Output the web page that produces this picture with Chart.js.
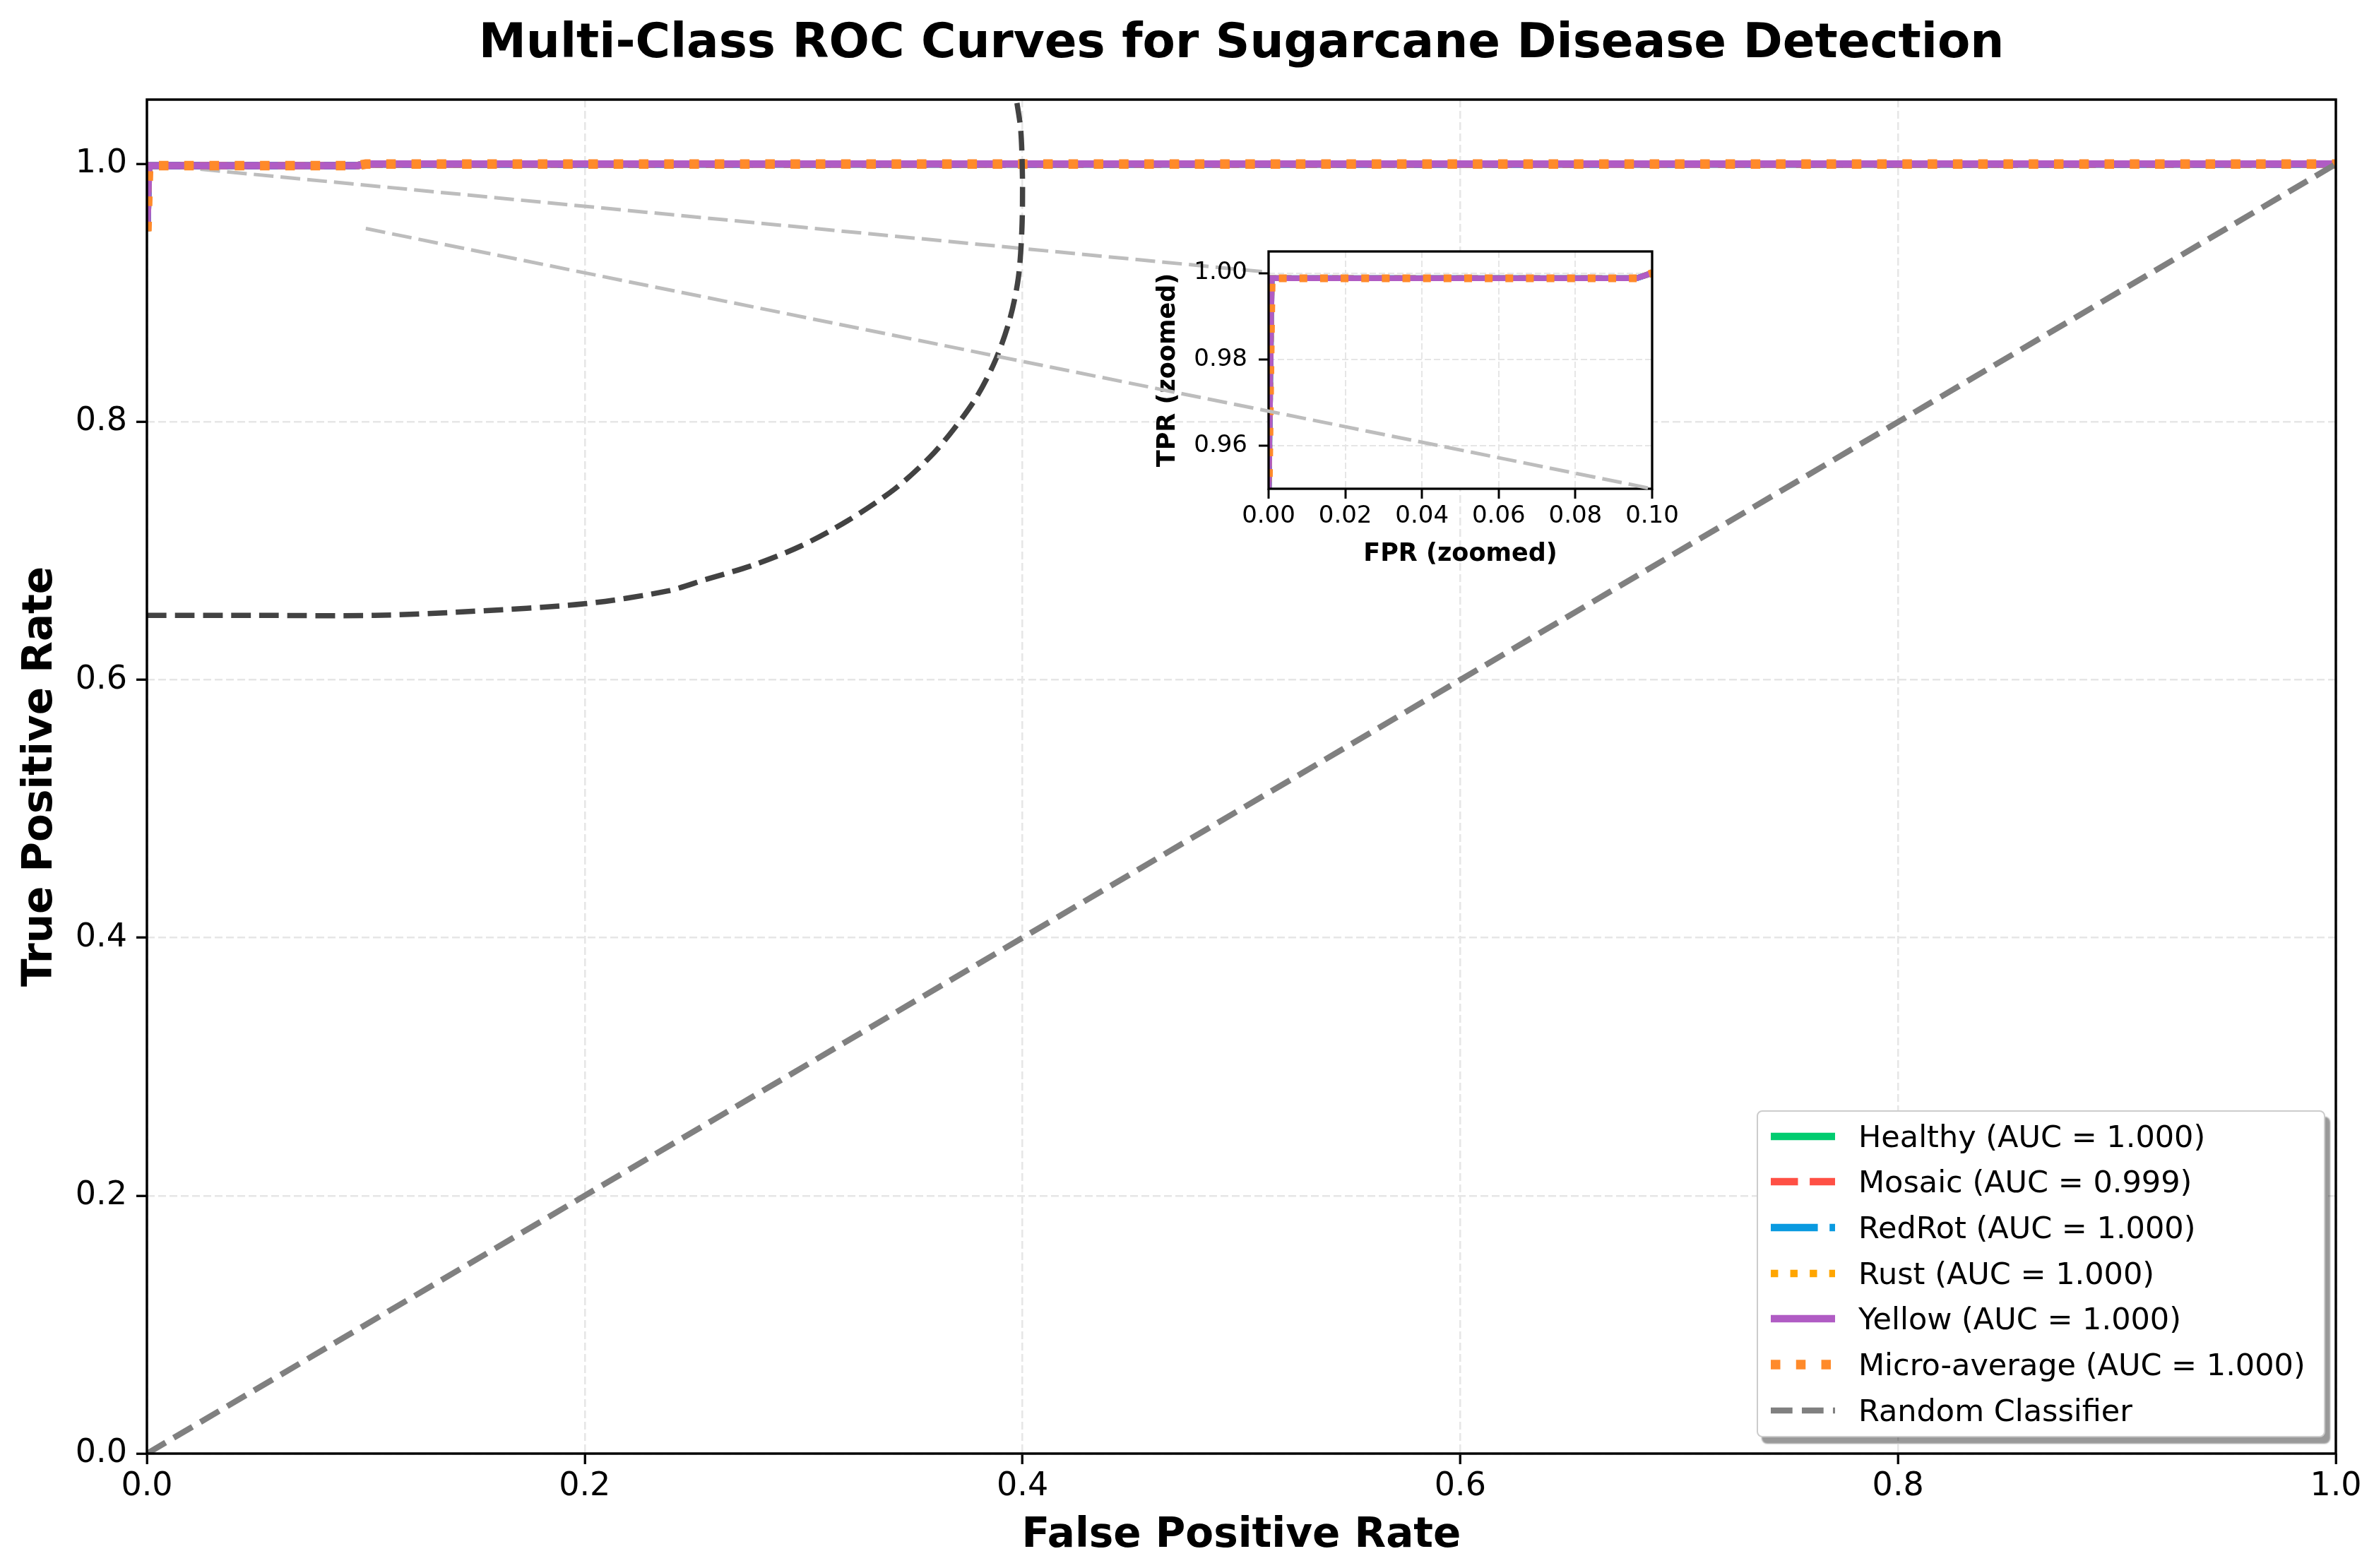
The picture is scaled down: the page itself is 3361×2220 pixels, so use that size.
<!DOCTYPE html>
<html>
<head>
<meta charset="utf-8">
<title>Multi-Class ROC Curves for Sugarcane Disease Detection</title>
<script src="https://cdn.jsdelivr.net/npm/chart.js@4.4.1/dist/chart.umd.min.js"></script>
<style>
  html, body { margin: 0; padding: 0; background: #fff; }
  #wrap { position: relative; width: 3361px; height: 2220px; overflow: hidden; }
  #wrap canvas { position: absolute; }
  #rocChart { left: 0; top: 0; z-index: 1; }
  #insetChart { left: 1600px; top: 319px; z-index: 2; }
  #overlayChart { left: 0; top: 0; z-index: 3; }
  #legend {
    position: absolute; left: 2487px; top: 1572px; width: 805px; height: 463px;
    box-sizing: border-box; border: 2px solid #cccccc; border-radius: 8px; background: #fff;
    box-shadow: 7px 9px 2px rgba(0, 0, 0, 0.4); z-index: 4;
    font-family: 'DejaVu Sans', sans-serif; font-size: 43px; color: #000;
  }
  #legend .row { position: absolute; left: 0; height: 65px; width: 100%; }
  #legend svg { position: absolute; left: 13px; top: 17px; }
  #legend span { position: absolute; left: 142px; top: 0; line-height: 65px; white-space: nowrap; }
</style>
</head>
<body>
<div id="wrap">
  <canvas id="rocChart" width="3361" height="2220"></canvas>
  <canvas id="insetChart" width="800" height="511"></canvas>
  <canvas id="overlayChart" width="3361" height="2220"></canvas>
  <div id="legend"></div>
</div>
<script>
console.log("Drawing the multi-class ROC chart");

// tick labels
const mainTicks = [0.0, 0.2, 0.4, 0.6, 0.8, 1.0];
const insetXTicks = [0.00, 0.02, 0.04, 0.06, 0.08, 0.10];
const insetYTicks = [0.96, 0.98, 1.00];

// classes
const classNames = ['Healthy', 'Mosaic', 'RedRot', 'Rust', 'Yellow'];
const classAuc = [1.000, 0.999, 1.000, 1.000, 1.000];
const microAuc = 1.000;

// ROC points (the curves lie on top of each other)
const healthyFpr = [0, 0.0008, 0.096, 0.1, 1.0];
const healthyTpr = [0.948, 0.9988, 0.9988, 1.0, 1.0];
const mosaicFpr = [0, 0.0008, 0.096, 0.1, 1.0];
const mosaicTpr = [0.948, 0.9988, 0.9988, 1.0, 1.0];
const redRotFpr = [0, 0.0008, 0.096, 0.1, 1.0];
const redRotTpr = [0.948, 0.9988, 0.9988, 1.0, 1.0];
const rustFpr = [0, 0.0008, 0.096, 0.1, 1.0];
const rustTpr = [0.948, 0.9988, 0.9988, 1.0, 1.0];
const yellowFpr = [0, 0.0008, 0.096, 0.1, 1.0];
const yellowTpr = [0.948, 0.9988, 0.9988, 1.0, 1.0];
const microFpr = [0, 0.0008, 0.096, 0.1, 1.0];
const microTpr = [0.948, 0.9988, 0.9988, 1.0, 1.0];
const randomFpr = [0, 1];
const randomTpr = [0, 1];

// dark dashed arc
const arcX = [0.000, 0.050, 0.104, 0.147, 0.200, 0.238, 0.2556, 0.277, 0.2986, 0.3201, 0.3416, 0.3578,
              0.3685, 0.3793, 0.3879, 0.3943, 0.3981, 0.3997, 0.4000, 0.3992, 0.3973];
const arcY = [0.650, 0.650, 0.650, 0.653, 0.659, 0.669, 0.678, 0.689, 0.7037, 0.7234, 0.748, 0.7729,
              0.7942, 0.8201, 0.8489, 0.8803, 0.9117, 0.9484, 0.9877, 1.0265, 1.0493];

// grey lines from the zoomed corner to the inset
const guideUpperX = [0.0, 0.5124];
const guideUpperY = [1.0, 0.9161];
const guideLowerX = [0.1, 0.6876];
const guideLowerY = [0.95, 0.7482];

const classFpr = [healthyFpr, mosaicFpr, redRotFpr, rustFpr, yellowFpr];
const classTpr = [healthyTpr, mosaicTpr, redRotTpr, rustTpr, yellowTpr];
const classColors = ['#00cc70', '#ff5045', '#0a9ae0', '#ffa500', '#b05cc4'];
const classStyles = ['-', '--', '-.', ':', '-'];

Chart.defaults.font.family = "'DejaVu Sans', sans-serif";
Chart.defaults.color = '#000';

function toPoints(xs, ys) {
    return xs.map((x, i) => ({ x: x, y: ys[i] }));
}

// matplotlib-like dash patterns, scaled by the line width
function dashFor(style, lw) {
    if (style === '--') return [3.7 * lw, 1.6 * lw];
    if (style === '-.') return [6.4 * lw, 1.6 * lw, lw, 1.6 * lw];
    if (style === ':') return [lw, 1.65 * lw];
    return [];
}

function lineSet(label, xs, ys, color, style, lw, order) {
    return {
        label: label,
        data: toPoints(xs, ys),
        borderColor: color,
        backgroundColor: color,
        borderWidth: lw,
        borderDash: dashFor(style, lw),
        borderCapStyle: 'butt',
        pointRadius: 0,
        tension: 0,
        fill: false,
        clip: 0,
        order: order
    };
}

function rocDatasets(lw, microLw) {
    const sets = classNames.map((name, i) =>
        lineSet(name + ' (AUC = ' + classAuc[i].toFixed(3) + ')', classFpr[i], classTpr[i],
            classColors[i], classStyles[i], lw, 10 - i));
    sets.push(lineSet('Micro-average (AUC = ' + microAuc.toFixed(3) + ')', microFpr, microTpr,
        '#ff8a2a', ':', microLw, 4));
    return sets;
}

// draws the four spines, and a white face under the plot if asked
const framePlugin = {
    id: 'frame',
    beforeDraw(chart, args, opts) {
        if (!opts.face) return;
        const a = chart.chartArea;
        chart.ctx.save();
        chart.ctx.fillStyle = '#fff';
        chart.ctx.fillRect(a.left, a.top, a.right - a.left, a.bottom - a.top);
        chart.ctx.restore();
    },
    afterDraw(chart, args, opts) {
        if (!opts.show) return;
        const a = chart.chartArea;
        const ctx = chart.ctx;
        ctx.save();
        ctx.strokeStyle = '#000';
        ctx.lineWidth = opts.width;
        ctx.setLineDash([]);
        ctx.strokeRect(a.left, a.top, a.right - a.left, a.bottom - a.top);
        ctx.restore();
    }
};

function fixedTicks(list) {
    return scale => { scale.ticks = list.map(v => ({ value: v })); };
}

const gridStyle = { color: '#e6e6e6', lineWidth: 2.5, tickLength: 15, tickColor: '#000', tickWidth: 3.3, tickBorderDash: [] };

// ---------- main chart ----------
const mainDatasets = rocDatasets(10.4, 13.5);
mainDatasets.push(lineSet('Random Classifier', randomFpr, randomTpr, '#808080', '--', 8.3, 3));
mainDatasets.push(Object.assign(lineSet('', arcX, arcY, '#424242', '--', 7.5, 2), { tension: 0.3 }));
mainDatasets.push(lineSet('', guideUpperX, guideUpperY, '#bdbdbd', '-', 5, 12));
mainDatasets[mainDatasets.length - 1].borderDash = [28, 10];

const rocChart = new Chart(document.getElementById('rocChart'), {
    type: 'line',
    data: { datasets: mainDatasets },
    options: {
        responsive: false,
        devicePixelRatio: 1,
        animation: false,
        events: [],
        layout: { padding: { left: 0, right: 54, top: 0, bottom: 0 } },
        plugins: {
            legend: { display: false },
            tooltip: { enabled: false },
            title: {
                display: true,
                text: 'Multi-Class ROC Curves for Sugarcane Disease Detection',
                font: { size: 67.5, weight: 'bold' },
                color: '#000',
                fullSize: false,
                padding: { top: 23, bottom: 37 }
            },
            frame: { show: true, width: 3.5 }
        },
        scales: {
            x: {
                type: 'linear', min: 0, max: 1,
                afterBuildTicks: fixedTicks(mainTicks),
                afterFit: s => { s.height = 162; },
                grid: gridStyle,
                border: { display: false, dash: [11, 5] },
                ticks: { font: { size: 46 }, color: '#000', padding: 4, maxRotation: 0, autoSkip: false,
                    callback: v => Number(v).toFixed(1) },
                title: { display: true, text: 'False Positive Rate', font: { size: 58, weight: 'bold' },
                    color: '#000', padding: { top: 0, bottom: 10 } }
            },
            y: {
                type: 'linear', min: 0, max: 1.05,
                afterBuildTicks: fixedTicks(mainTicks),
                afterFit: s => { s.width = 208; },
                grid: gridStyle,
                border: { display: false, dash: [11, 5] },
                ticks: { font: { size: 46 }, color: '#000', padding: 13, autoSkip: false,
                    callback: v => Number(v).toFixed(1) },
                title: { display: true, text: 'True Positive Rate', font: { size: 58, weight: 'bold' },
                    color: '#000', padding: { top: 23, bottom: 0 } }
            }
        }
    },
    plugins: [framePlugin]
});

// ---------- zoomed inset ----------
const insetGrid = { color: '#e6e6e6', lineWidth: 2, tickLength: 14, tickColor: '#000', tickWidth: 3, tickBorderDash: [] };

new Chart(document.getElementById('insetChart'), {
    type: 'line',
    data: { datasets: rocDatasets(8.3, 11) },
    options: {
        responsive: false,
        devicePixelRatio: 1,
        animation: false,
        events: [],
        layout: { padding: { left: 0, right: 61, top: 37, bottom: 0 } },
        plugins: {
            legend: { display: false },
            tooltip: { enabled: false },
            frame: { show: true, width: 3.3, face: true }
        },
        scales: {
            x: {
                type: 'linear', min: 0, max: 0.1,
                afterBuildTicks: fixedTicks(insetXTicks),
                afterFit: s => { s.height = 138; },
                grid: insetGrid,
                border: { display: false, dash: [9, 4] },
                ticks: { font: { size: 34 }, color: '#000', padding: 5, maxRotation: 0, autoSkip: false,
                    callback: v => Number(v).toFixed(2) },
                title: { display: true, text: 'FPR (zoomed)', font: { size: 35, weight: 'bold' },
                    color: '#000', padding: { top: 0, bottom: 24 } }
            },
            y: {
                type: 'linear', min: 0.95, max: 1.005,
                afterBuildTicks: fixedTicks(insetYTicks),
                afterFit: s => { s.width = 196; },
                grid: insetGrid,
                border: { display: false, dash: [9, 4] },
                ticks: { font: { size: 34 }, color: '#000', padding: 16, autoSkip: false,
                    callback: v => Number(v).toFixed(2) },
                title: { display: true, text: 'TPR (zoomed)', font: { size: 35, weight: 'bold' },
                    color: '#000', padding: { top: 33, bottom: 0 } }
            }
        }
    },
    plugins: [framePlugin]
});

// ---------- overlay: the lower guide line crosses the inset ----------
const lowerGuide = lineSet('', guideLowerX, guideLowerY, '#bdbdbd', '-', 5, 1);
lowerGuide.borderDash = [28, 10];

new Chart(document.getElementById('overlayChart'), {
    type: 'line',
    data: { datasets: [lowerGuide] },
    options: {
        responsive: false,
        devicePixelRatio: 1,
        animation: false,
        events: [],
        layout: { padding: { left: 0, right: 54, top: 141, bottom: 0 } },
        plugins: { legend: { display: false }, tooltip: { enabled: false } },
        scales: {
            x: { type: 'linear', min: 0, max: 1, afterFit: s => { s.height = 162; },
                grid: { display: false }, border: { display: false }, ticks: { display: false } },
            y: { type: 'linear', min: 0, max: 1.05, afterFit: s => { s.width = 208; },
                grid: { display: false }, border: { display: false }, ticks: { display: false } }
        }
    }
});

// ---------- legend built from the main chart's datasets ----------
function buildLegend(chart) {
    const box = document.getElementById('legend');
    box.innerHTML = '';
    const items = chart.data.datasets
        .map((ds, i) => ({ ds: ds, index: i }))
        .filter(item => item.ds.label);
    items.forEach((item, row) => {
        const ds = item.ds;
        const dash = ds.borderDash || [];
        const solid = dash.length === 0;
        const div = document.createElement('div');
        div.className = 'row';
        div.style.top = (2.5 + row * 64.7) + 'px';
        const x1 = solid ? 5 + ds.borderWidth / 2 : 5;
        const x2 = solid ? 96 - ds.borderWidth / 2 : 96;
        div.innerHTML =
            '<svg width="100" height="30"><line x1="' + x1 + '" y1="15" x2="' + x2 + '" y2="15" stroke="' +
            ds.borderColor + '" stroke-width="' + ds.borderWidth + '" stroke-linecap="' + (solid ? 'square' : 'butt') +
            '" stroke-dasharray="' + (solid ? 'none' : dash.join(' ')) + '"/></svg><span>' + ds.label + '</span>';
        box.appendChild(div);
    });
}

buildLegend(rocChart);
</script>
</body>
</html>
